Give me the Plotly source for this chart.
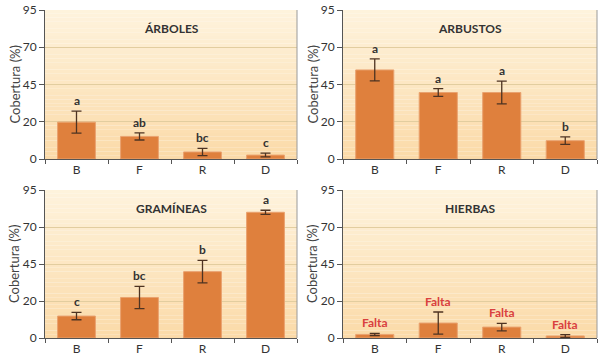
import plotly.graph_objects as go

categories = ["B", "F", "R", "D"]
tick_positions = [0, 23.75, 47.5, 71.25, 95]
tick_labels = ["0", "20", "45", "70", "95"]

arboles = [23.5, 14.4, 4.5, 2.5]
arboles_err = [7.0, 2.3, 2.3, 1.2]
arboles_letters = ["a", "ab", "bc", "c"]

arbustos = [56.8, 42.4, 42.4, 11.7]
arbustos_err = [7.0, 2.5, 7.2, 2.4]
arbustos_letters = ["a", "a", "a", "b"]

gramineas = [14.1, 26.0, 42.6, 80.7]
gramineas_err = [2.4, 7.1, 7.2, 1.3]
gramineas_letters = ["c", "bc", "b", "a"]

hierbas = [2.3, 9.6, 7.0, 1.3]
hierbas_err = [0.7, 7.1, 2.4, 0.9]
hierbas_letters = ["Falta", "Falta", "Falta", "Falta"]

panels = [
    ("ÁRBOLES", arboles, arboles_err, arboles_letters, "#333333"),
    ("ARBUSTOS", arbustos, arbustos_err, arbustos_letters, "#333333"),
    ("GRAMÍNEAS", gramineas, gramineas_err, gramineas_letters, "#333333"),
    ("HIERBAS", hierbas, hierbas_err, hierbas_letters, "#d9403f"),
]

W, H = 600, 356
def xd(a, b):
    return (a / W, b / W)
def yd(top, bottom):
    return ((H - bottom) / H, (H - top) / H)

xdoms = [xd(45, 297), xd(343, 597)]
ydoms = [yd(10, 159), yd(190, 338)]
ytitle_x = [14 / W, 312 / W]

FONT = "Lato"
fig = go.Figure()
shapes = []
annotations = []

def lerp(c1, c2, t):
    return "#%02x%02x%02x" % tuple(int(round(a + (b - a) * t)) for a, b in zip(c1, c2))

top_c = (0xFE, 0xF3, 0xDD)
bot_c = (0xFB, 0xDA, 0xA8)

for i, (title, vals, errs, letters, lcol) in enumerate(panels):
    r, c = divmod(i, 2)
    n = i + 1
    xa = "x" if n == 1 else f"x{n}"
    ya = "y" if n == 1 else f"y{n}"
    fig.add_trace(go.Bar(
        x=categories, y=vals, xaxis=xa, yaxis=ya, width=0.6,
        marker=dict(color="#df803d", line=dict(color="#e9a26f", width=1)),
        error_y=dict(type="data", array=errs, visible=True, color="#4d3322",
                     thickness=1.3, width=5),
        showlegend=False,
    ))
    axkw = dict(domain=list(xdoms[c]), anchor=ya, type="category",
                categoryorder="array", categoryarray=categories,
                range=[-0.5, 3.5], showline=True, linecolor="#555555",
                linewidth=1, ticks="outside", tickson="boundaries",
                ticklen=4, tickcolor="#555555", showgrid=False,
                automargin=False,
                tickfont=dict(family=FONT, size=12, color="#333333"))
    aykw = dict(domain=list(ydoms[r]), anchor=xa, range=[0, 95],
                tickvals=tick_positions, ticktext=tick_labels,
                showline=True, linecolor="#555555", linewidth=1,
                ticks="outside", ticklen=5, tickcolor="#555555",
                showgrid=True, gridcolor="#e2cd9f", gridwidth=1,
                zeroline=False, automargin=False,
                tickfont=dict(family=FONT, size=12, color="#333333"))
    fig.update_layout(**{("xaxis" if n == 1 else f"xaxis{n}"): axkw,
                         ("yaxis" if n == 1 else f"yaxis{n}"): aykw})
    nst = 40
    for k in range(nst):
        t = (k + 0.5) / nst
        shapes.append(dict(type="rect", xref=f"{xa} domain", yref=f"{ya} domain",
                           x0=0, x1=1, y0=1 - (k + 1) / nst, y1=1 - k / nst,
                           fillcolor=lerp(top_c, bot_c, t), line=dict(width=0),
                           layer="below"))
    shapes.append(dict(type="line", xref=f"{xa} domain", yref=f"{ya} domain",
                       x0=1, x1=1, y0=0, y1=1, line=dict(color="#9a9a9a", width=1)))
    annotations.append(dict(text="Cobertura (%)", xref="paper", yref=f"{ya} domain",
                            x=ytitle_x[c], y=0.5, xanchor="center", yanchor="middle",
                            textangle=-90, showarrow=False,
                            font=dict(family=FONT, size=13, color="#444444")))
    annotations.append(dict(text=f"<b>{title}</b>", xref=f"{xa} domain",
                            yref=f"{ya} domain", x=0.5, y=0.875, showarrow=False,
                            xanchor="center", yanchor="middle",
                            font=dict(family=FONT, size=12, color="#333333")))
    for cat, v, e, lt in zip(categories, vals, errs, letters):
        annotations.append(dict(text=f"<b>{lt}</b>", x=cat, y=v + e, xref=xa, yref=ya,
                                showarrow=False, yanchor="bottom", yshift=1,
                                font=dict(family=FONT, size=12, color=lcol)))

fig.update_layout(width=W, height=H,
                  margin=dict(l=0, r=0, t=0, b=0, autoexpand=False),
                  paper_bgcolor="white", plot_bgcolor="rgba(0,0,0,0)",
                  shapes=shapes, annotations=annotations, bargap=0.4,
                  font=dict(family=FONT))
fig.write_html("out.html", config={"displayModeBar": False},
               post_script="document.body.style.margin='0';document.body.style.overflow='hidden';")
